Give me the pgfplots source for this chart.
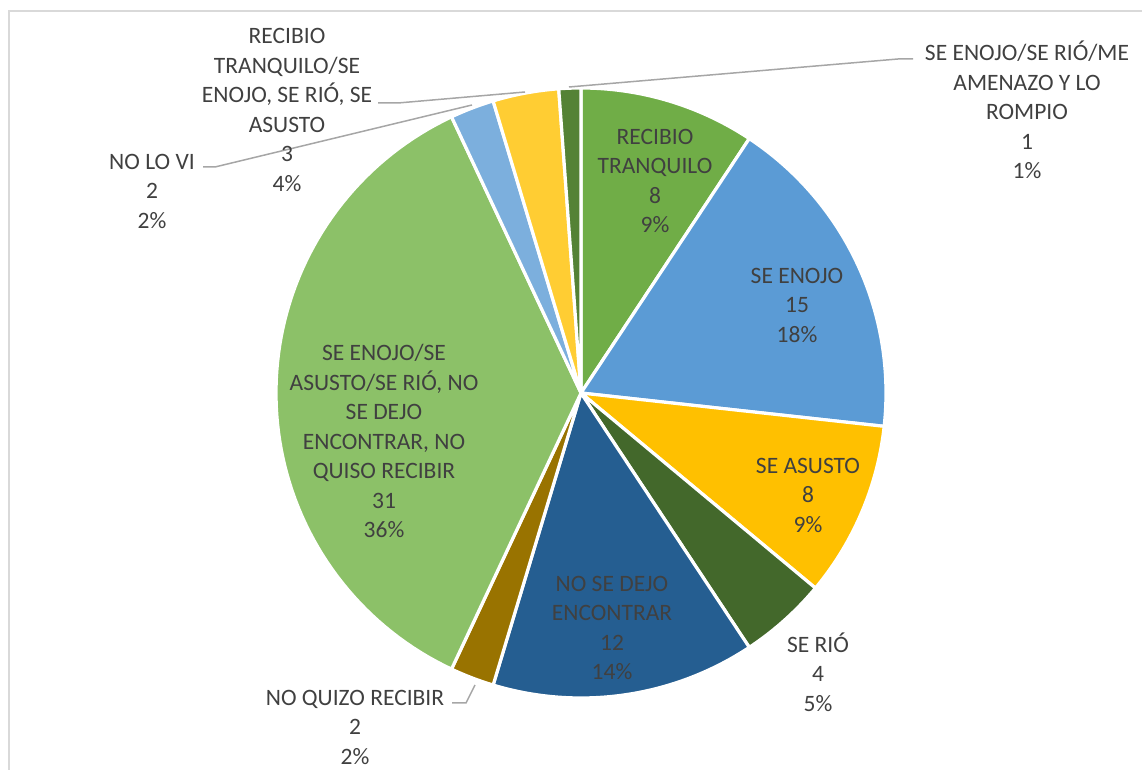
\documentclass[border=0pt]{standalone}
\usepackage{pgfplots}
\usepackage{pgfplotstable}
\pgfplotsset{compat=1.18}
\usepackage{fontspec}
\setmainfont{Carlito}

\definecolor{pc0}{HTML}{70AD47}
\definecolor{pc1}{HTML}{5B9BD5}
\definecolor{pc2}{HTML}{FFC000}
\definecolor{pc3}{HTML}{43682B}
\definecolor{pc4}{HTML}{255E91}
\definecolor{pc5}{HTML}{997300}
\definecolor{pc6}{HTML}{8CC168}
\definecolor{pc7}{HTML}{7CAFDD}
\definecolor{pc8}{HTML}{FFCD33}
\definecolor{pc9}{HTML}{548235}
\definecolor{txt}{HTML}{404040}
\definecolor{lead}{HTML}{A6A6A6}
\definecolor{frame}{HTML}{D9D9D9}

\pgfplotstableread{
idx value
0 8
1 15
2 8
3 4
4 12
5 2
6 31
7 2
8 3
9 1
}\piedata

\def\cx{581}
\def\cy{377}
\def\R{305}

% sum of values
\pgfplotstablegetrowsof{\piedata}
\pgfmathtruncatemacro\nrows{\pgfplotsretval-1}
\gdef\total{0}
\foreach \i in {0,...,\nrows}{%
  \pgfplotstablegetelem{\i}{value}\of\piedata
  \pgfmathsetmacro\tmpt{\total+\pgfplotsretval}%
  \xdef\total{\tmpt}%
}
% start / end angles (clockwise from the top)
\gdef\cum{0}
\foreach \i in {0,...,\nrows}{%
  \pgfplotstablegetelem{\i}{value}\of\piedata
  \pgfmathsetmacro\tmps{90-\cum/\total*360}%
  \pgfmathsetmacro\tmpc{\cum+\pgfplotsretval}%
  \xdef\cum{\tmpc}%
  \pgfmathsetmacro\tmpe{90-\cum/\total*360}%
  \expandafter\xdef\csname angS\i\endcsname{\tmps}%
  \expandafter\xdef\csname angE\i\endcsname{\tmpe}%
}

\begin{document}
\begin{tikzpicture}
\begin{axis}[
  scale only axis, width=571pt, height=385pt,
  xmin=0, xmax=1142, ymin=0, ymax=770,
  hide axis, clip=false,
]
\coordinate (BL) at (rel axis cs:0,0);
\coordinate (TR) at (rel axis cs:1,1);
\draw[frame, line width=1pt] (9,0) -- (9,759) -- (1142,759);

\pgfplotsinvokeforeach{0,...,9}{%
  \addplot[fill=pc#1, draw=white, line width=1.6pt, line join=round,
    domain=\csname angE#1\endcsname:\csname angS#1\endcsname,
    samples=80, variable=\t]
    ({\cx+\R*cos(\t)},{\cy+\R*sin(\t)}) -- (\cx,\cy) -- cycle;
}

% leader lines
\draw[lead, line width=0.75pt] (452,67) -- (466,67) -- (475,85);
\draw[lead, line width=0.75pt] (203,603) -- (215,603) -- (472,665);
\draw[lead, line width=0.75pt] (378,667) -- (398,667) -- (525,678);
\draw[lead, line width=0.75pt] (913,711) -- (898,711) -- (569,683);

\tikzset{lbl/.style={text=txt, align=center, inner sep=0pt,
  font=\fontsize{11.75}{14.75}\selectfont}}
\node[lbl] at (655,589) {RECIBIO\\TRANQUILO\\8\\9\%};
\node[lbl] at (797,465) {SE ENOJO\\15\\18\%};
\node[lbl] at (808,275) {SE ASUSTO\\8\\9\%};
\node[lbl] at (818,98) {SE RIÓ\\4\\5\%};
\node[lbl] at (612,142) {NO SE DEJO\\ENCONTRAR\\12\\14\%};
\node[lbl] at (355,43) {NO QUIZO RECIBIR\\2\\2\%};
\node[lbl] at (384,329) {SE ENOJO/SE\\ASUSTO/SE RIÓ, NO\\SE DEJO\\ENCONTRAR, NO\\QUISO RECIBIR\\31\\36\%};
\node[lbl] at (152,579) {NO LO VI\\2\\2\%};
\node[lbl] at (287,660) {RECIBIO\\TRANQUILO/SE\\ENOJO, SE RIÓ, SE\\ASUSTO\\3\\4\%};
\node[lbl] at (1027,660) {SE ENOJO/SE RIÓ/ME\\AMENAZO Y LO\\ROMPIO\\1\\1\%};
\end{axis}
\pgfresetboundingbox
\path (BL) rectangle (TR);
\end{tikzpicture}
\end{document}
